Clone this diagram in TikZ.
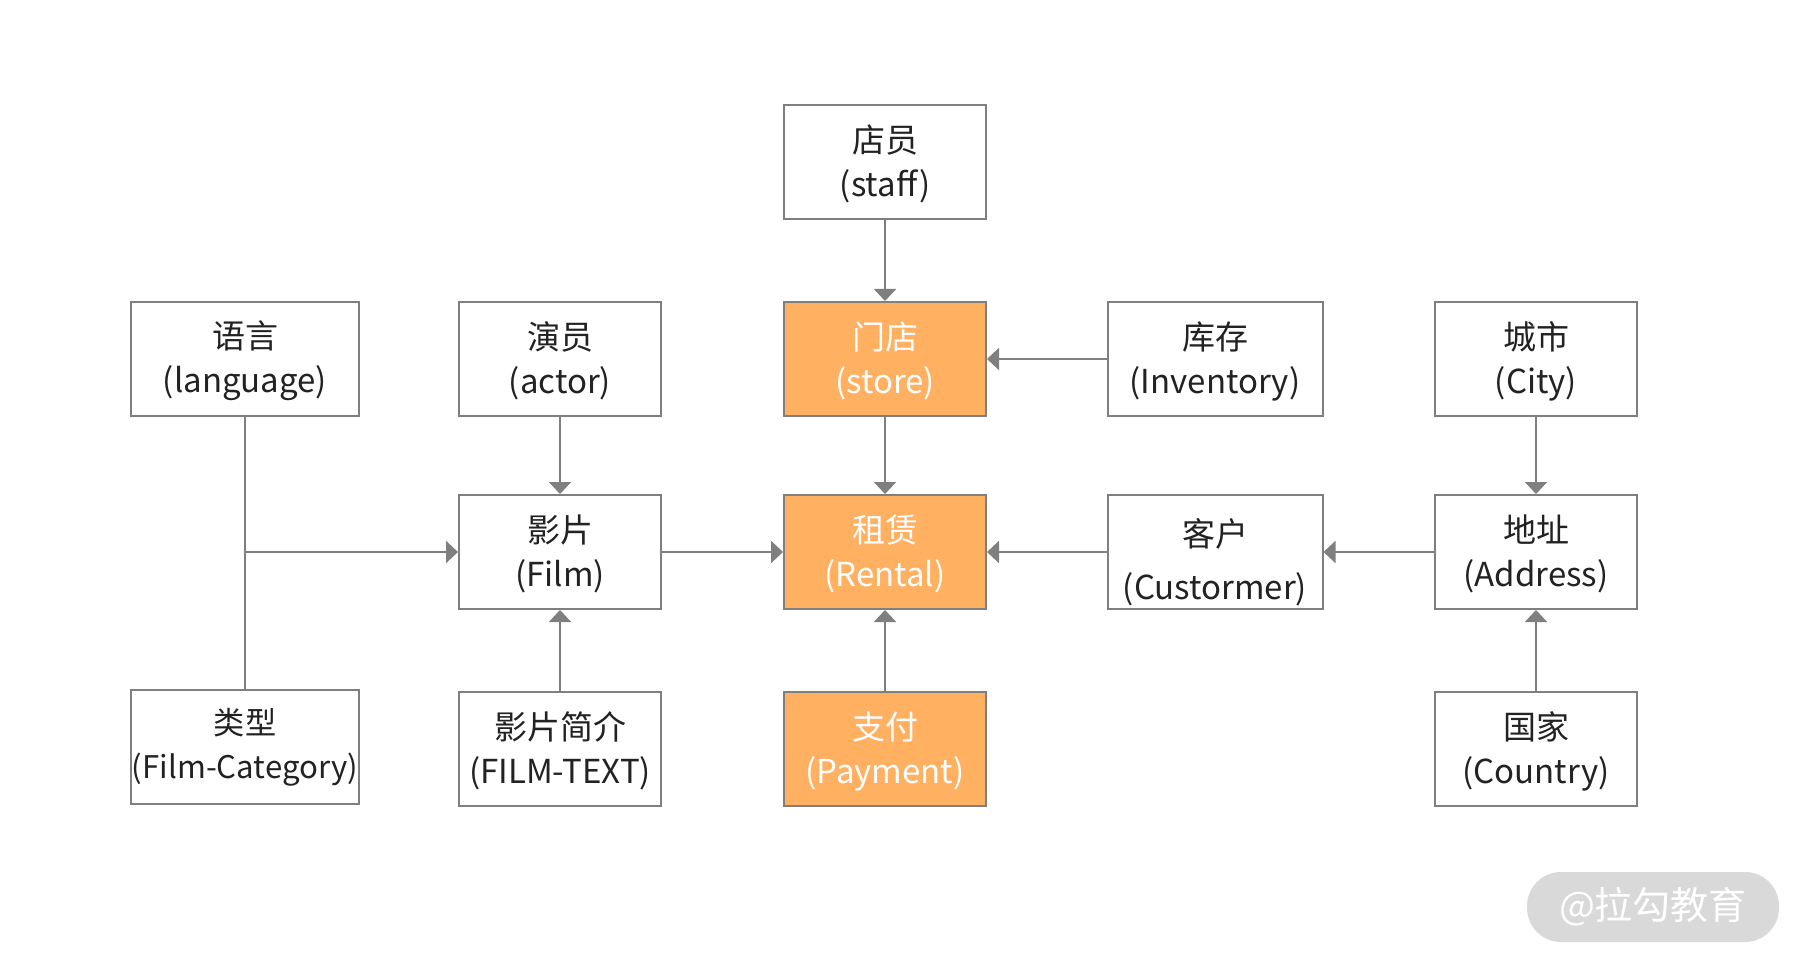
\documentclass[tikz,border=0pt]{standalone}
\usepackage{fontspec}
\setmainfont{Noto Sans CJK SC}
\usepackage{xcolor}
\usepackage{tikz}
\usetikzlibrary{arrows.meta,positioning}
\definecolor{LineGray}{HTML}{7F7F7F}
\definecolor{CoreOrange}{HTML}{FFB061}
\definecolor{TextDark}{HTML}{222222}
\definecolor{MarkGray}{HTML}{D9D9D9}
\newcommand{\lift}[1][16pt]{\rule{0pt}{#1}}

\begin{document}
\begin{tikzpicture}[
  x=0.5pt, y=-0.5pt,
  entity/.style={rectangle, draw=LineGray, line width=1pt, fill=white, minimum width=#1, minimum height=57pt, inner sep=0pt, align=center, text=TextDark, font=\fontsize{16.5}{22}\selectfont},
  entity/.default=101pt,
  core/.style={entity=#1, fill=CoreOrange, text=white},
  core/.default=101pt,
  arrow/.style={-{Triangle[width=11pt,length=6pt]}, line width=1pt, draw=LineGray},
  link/.style={line width=1pt, draw=LineGray}
]
\useasboundingbox (0,0) rectangle (1804,968);

% Top: staff
\node[entity] (staff) at (885,162) {\lift 店员\\(staff)};

% Row 2
\node[entity=114pt] (lang) at (245,359) {\lift 语言\\(language)};
\node[entity] (actor) at (560,359) {\lift 演员\\(actor)};
\node[core] (store) at (885,359) {\lift 门店\\(store)};
\node[entity=107.5pt] (inventory) at (1215,359) {\lift 库存\\(Inventory)};
\node[entity] (city) at (1536,359) {\lift 城市\\(City)};

% Row 3
\node[entity] (film) at (560,552) {\lift 影片\\(Film)};
\node[core] (rental) at (885,552) {\lift 租赁\\(Rental)};
\node[entity=107.5pt] (customer) at (1215,552) {\lift[24pt]客户\\[4.5pt](Custormer)};
\node[entity] (address) at (1536,552) {\lift 地址\\(Address)};

% Row 4
\node[entity=114pt, font=\fontsize{15.6}{22}\selectfont] (category) at (245,747) {类型\\(Film-Category)};
\node[entity] (filmtext) at (560,749) {\lift 影片简介\\(FILM-TEXT)};
\node[core] (payment) at (885,749) {\lift 支付\\(Payment)};
\node[entity] (country) at (1536,749) {\lift 国家\\(Country)};

% Watermark
\node[rectangle, rounded corners=17pt, fill=MarkGray, minimum width=126pt, minimum height=35pt, text=white, font=\fontsize{19}{22}\selectfont] (mark) at (1653,907) {@拉勾教育};

% Arrows into store and rental
\draw[arrow] (staff) -- (store);
\draw[arrow] (inventory) -- (store);
\draw[arrow] (store) -- (rental);
\draw[arrow] (film) -- (rental);
\draw[arrow] (customer) -- (rental);
\draw[arrow] (payment) -- (rental);

% Arrows into film
\draw[arrow] (actor) -- (film);
\draw[arrow] (filmtext) -- (film);
\draw[link] (lang) -- (category);
\coordinate (junc) at (lang |- film);
\draw[arrow] (junc) -- (film);

% Arrows around address
\draw[arrow] (address) -- (customer);
\draw[arrow] (city) -- (address);
\draw[arrow] (country) -- (address);

\end{tikzpicture}
\end{document}
